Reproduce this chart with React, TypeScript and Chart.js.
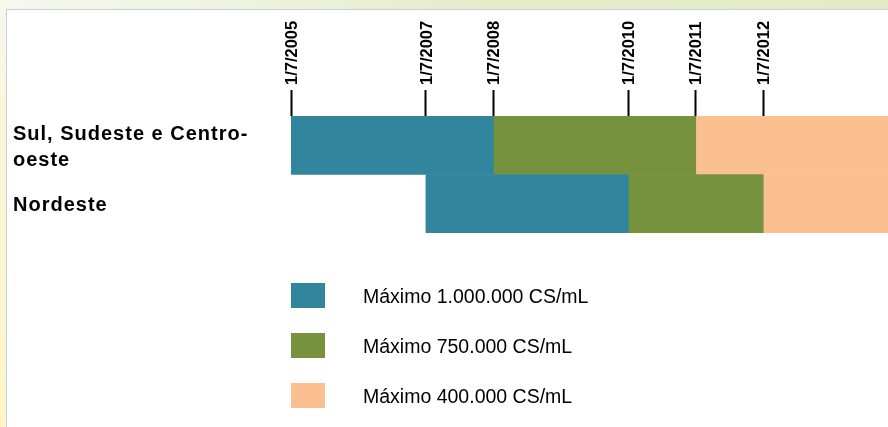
import React, { useEffect, useRef } from 'react';
import { Chart, registerables } from 'chart.js';

Chart.register(...registerables);

// Regions (rows of the timeline)
const regions: (string | string[])[] = [['Sul, Sudeste e Centro-', 'oeste'], 'Nordeste'];

// Milestone dates shown on the top axis, and their position in decimal years
const milestoneLabels = ['1/7/2005', '1/7/2007', '1/7/2008', '1/7/2010', '1/7/2011', '1/7/2012'];
const milestoneYears = [2005.5, 2007.5, 2008.5, 2010.5, 2011.5, 2012.5];

const timelineStart = 2005.5;
const timelineEnd = 2014.35;

// Somatic cell count limits and the period each applies, per region [start, end]
const limitLabels = ['Máximo 1.000.000 CS/mL', 'Máximo 750.000 CS/mL', 'Máximo 400.000 CS/mL'];
const limit1000k: [number, number][] = [[2005.5, 2008.5], [2007.5, 2010.5]];
const limit750k: [number, number][] = [[2008.5, 2011.5], [2010.5, 2012.5]];
const limit400k: [number, number][] = [[2011.5, timelineEnd], [2012.5, timelineEnd]];
const limitPeriods = [limit1000k, limit750k, limit400k];
const limitColors = ['#31859C', '#76923C', '#FAC090'];

const FONT = '"Liberation Sans", Arial, Helvetica, sans-serif';

// Row labels are drawn with slightly wider tracking; x labels (z: 1) come after the reset
const rowLabelTracking = {
  id: 'rowLabelTracking',
  beforeDraw(chart: any) {
    chart.ctx.letterSpacing = '1px';
  },
  beforeDatasetsDraw(chart: any) {
    chart.ctx.letterSpacing = '0px';
  },
};

// Vertical legend under the bars
const limitLegend = {
  id: 'limitLegend',
  afterDraw(chart: any) {
    const { ctx, chartArea } = chart;
    ctx.save();
    ctx.letterSpacing = '0px';
    ctx.font = `19.5px ${FONT}`;
    ctx.textAlign = 'left';
    ctx.textBaseline = 'middle';
    chart.data.datasets.forEach((ds: any, i: number) => {
      const top = chartArea.bottom + 50 + i * 50;
      ctx.fillStyle = ds.backgroundColor;
      ctx.fillRect(chartArea.left, top, 34, 25);
      ctx.fillStyle = '#000';
      ctx.fillText(ds.label, chartArea.left + 72, top + 14.5);
    });
    ctx.restore();
  },
};

export default function App() {
  const canvasRef = useRef<HTMLCanvasElement | null>(null);

  useEffect(() => {
    document.body.style.margin = '0';
    const canvas = canvasRef.current;
    if (!canvas) return;

    const chart = new Chart(canvas, {
      type: 'bar',
      data: {
        labels: regions as any,
        datasets: limitLabels.map((label, i) => ({
          label,
          data: limitPeriods[i] as any,
          backgroundColor: limitColors[i],
          borderWidth: 0,
          grouped: false,
          barPercentage: 1,
          categoryPercentage: 1,
        })),
      },
      options: {
        indexAxis: 'y',
        animation: false,
        responsive: false,
        maintainAspectRatio: false,
        events: [],
        layout: { padding: { left: 13, top: 0, right: 0, bottom: 194 } },
        plugins: {
          legend: { display: false },
          tooltip: { enabled: false },
        },
        scales: {
          x: {
            type: 'linear',
            position: 'top',
            min: timelineStart,
            max: timelineEnd,
            afterBuildTicks: (scale: any) => {
              scale.ticks = milestoneYears.map((value) => ({ value }));
            },
            afterFit: (scale: any) => {
              scale.height = 116;
            },
            grid: {
              drawOnChartArea: false,
              drawTicks: true,
              tickLength: 26,
              tickWidth: 2,
              tickColor: '#000',
            },
            border: { display: false },
            ticks: {
              autoSkip: false,
              minRotation: 90,
              maxRotation: 90,
              padding: 5,
              labelOffset: 21,
              color: '#000',
              z: 1,
              font: { family: FONT, size: 16.5, weight: 'bold' },
              callback: (_v: any, i: number) => milestoneLabels[i],
            },
          },
          y: {
            type: 'category',
            position: 'left',
            afterFit: (scale: any) => {
              scale.width = 278;
            },
            grid: { display: false },
            border: { display: false },
            ticks: {
              crossAlign: 'far',
              padding: 0,
              labelOffset: 2,
              color: '#000',
              font: { family: FONT, size: 20, weight: 'bold', lineHeight: 1.28 },
            },
          },
        },
      } as any,
      plugins: [rowLabelTracking, limitLegend],
    });

    return () => chart.destroy();
  }, []);

  return (
    <div style={{ position: 'relative', width: 888, height: 427, overflow: 'hidden', background: '#ffffff' }}>
      <div
        style={{
          position: 'absolute', left: 0, top: 0, width: 888, height: 9,
          background: 'linear-gradient(to right, #f7f7ee 0%, #eef2dc 30%, #e4ecc9 55%, #e2ebc6 100%)',
        }}
      />
      <div
        style={{
          position: 'absolute', left: 0, top: 0, width: 6, height: 427,
          background: 'linear-gradient(to bottom, #f7f7ee 0%, #fbf6d8 30%, #fdf5c8 100%)',
        }}
      />
      <div
        style={{
          position: 'absolute', left: 6, top: 9, right: 0, bottom: 0,
          background: '#ffffff',
          borderLeft: '1px solid #c6cfe2',
          borderTop: '1px solid #c6cfe2',
        }}
      />
      <canvas
        ref={canvasRef}
        width={888}
        height={427}
        style={{ position: 'absolute', left: 0, top: 0, width: 888, height: 427 }}
      />
    </div>
  );
}
